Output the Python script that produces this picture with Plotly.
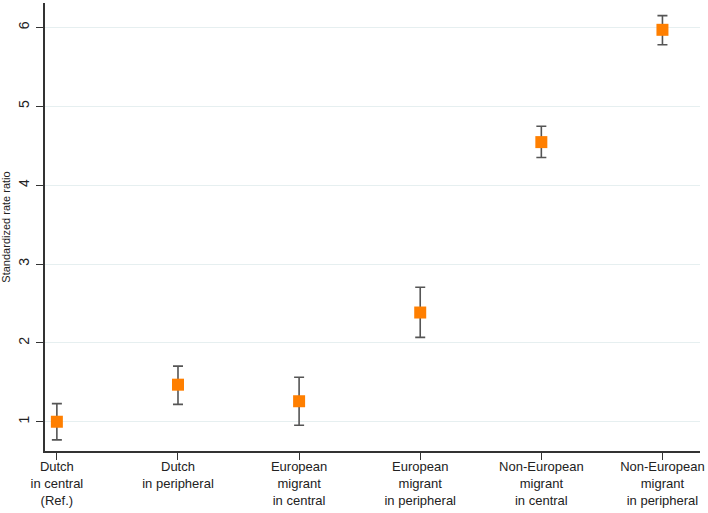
import plotly.graph_objects as go

categories = [
    "Dutch<br>in central<br>(Ref.)",
    "Dutch<br>in peripheral",
    "European<br>migrant<br>in central",
    "European<br>migrant<br>in peripheral",
    "Non-European<br>migrant<br>in central",
    "Non-European<br>migrant<br>in peripheral",
]
srr = [1.00, 1.47, 1.26, 2.385, 4.546, 5.97]
ci_low = [0.77, 1.22, 0.955, 2.07, 4.35, 5.78]
ci_high = [1.23, 1.705, 1.565, 2.705, 4.748, 6.15]
y_ticks = [1, 2, 3, 4, 5, 6]

err_plus = [h - v for h, v in zip(ci_high, srr)]
err_minus = [v - l for v, l in zip(srr, ci_low)]

fig = go.Figure()
fig.add_trace(go.Scatter(
    x=categories, y=srr, mode="markers",
    marker=dict(symbol="square", size=12, color="#ff7f00", line=dict(width=0)),
    error_y=dict(type="data", symmetric=False, array=err_plus, arrayminus=err_minus,
                 color="#555555", thickness=1.6, width=5),
    showlegend=False,
))

fig.update_layout(
    width=708, height=513,
    margin=dict(l=45, r=8, t=3, b=62),
    paper_bgcolor="white", plot_bgcolor="white",
    font=dict(family="Liberation Sans, Arial, sans-serif", color="#222222"),
)
fig.update_xaxes(
    type="category", range=[-0.098, 5.31], automargin=False,
    showline=True, linecolor="#333333", linewidth=1.5,
    ticks="outside", ticklen=7, tickcolor="#333333", tickwidth=1.3,
    showgrid=False, tickfont=dict(size=13), tickangle=0, ticklabelstandoff=-4,
)
fig.update_yaxes(
    range=[0.629, 6.31], tickvals=y_ticks, automargin=False,
    showline=True, linecolor="#333333", linewidth=1.5,
    ticks="outside", ticklen=7, tickcolor="#333333", tickwidth=1.3,
    showgrid=True, gridcolor="#e6eff0", gridwidth=1, zeroline=False,
    tickangle=-90, tickfont=dict(size=14), ticklabelstandoff=2,
    title=dict(text="Standardized rate ratio", font=dict(size=11), standoff=12),
)

fig.write_html(
    "out.html",
    config={"displayModeBar": False},
    post_script="document.body.style.margin='0';document.body.style.overflow='hidden';",
)
